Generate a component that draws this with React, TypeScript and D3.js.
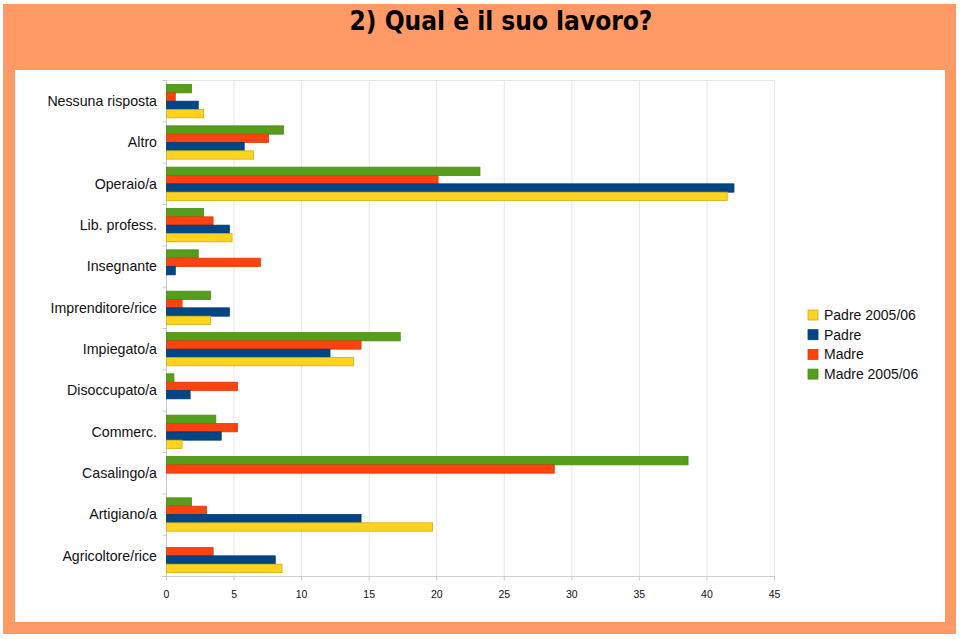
import React from "react";
import * as d3 from "d3";

const categories = [
  "Nessuna risposta",
  "Altro",
  "Operaio/a",
  "Lib. profess.",
  "Insegnante",
  "Imprenditore/rice",
  "Impiegato/a",
  "Disoccupato/a",
  "Commerc.",
  "Casalingo/a",
  "Artigiano/a",
  "Agricoltore/rice",
];

// series ordered top-to-bottom inside each group
const madre0506 = [1.85, 8.65, 23.2, 2.75, 2.35, 3.25, 17.3, 0.55, 3.65, 38.6, 1.85, 0];
const madre = [0.65, 7.55, 20.1, 3.45, 6.95, 1.15, 14.4, 5.25, 5.25, 28.7, 2.95, 3.45];
const padre = [2.35, 5.75, 42.0, 4.65, 0.65, 4.65, 12.1, 1.75, 4.05, 0, 14.4, 8.05];
const padre0506 = [2.75, 6.45, 41.5, 4.85, 0, 3.25, 13.85, 0, 1.15, 0, 19.7, 8.55];

const seriesNames = ["Madre 2005/06", "Madre", "Padre", "Padre 2005/06"];
const seriesValues = [madre0506, madre, padre, padre0506];
const seriesColors = ["#579d1c", "#ff420e", "#004586", "#ffd320"];
const seriesStroke = ["#4a8a15", "#e03a0a", "#003a70", "#d4ad10"];

const legendOrder = [3, 2, 1, 0];
const xTicks = [0, 5, 10, 15, 20, 25, 30, 35, 40, 45];

const font = "'Liberation Sans', Arial, sans-serif";

export default function App() {
  const left = 166.5;
  const right = 774.5;
  const top = 80.5;
  const bottom = 576.5;

  const x = d3.scaleLinear().domain([0, 45]).range([left, right]);
  const y = d3.scaleBand<string>().domain(categories).range([top, bottom]).paddingInner(0).paddingOuter(0);
  const bw = y.bandwidth();
  const groupH = bw * 0.806;
  const barH = groupH / 4;

  return (
    <svg width={960} height={639} style={{ position: "absolute", left: 0, top: 0 }}>
      <rect x={0} y={0} width={960} height={639} fill="#ffffff" />
      <rect x={3} y={4} width={953} height={630} fill="#ff9966" />
      <rect x={15} y={70} width={930} height={552} fill="#ffffff" />
      <text
        x={501}
        y={30}
        textAnchor="middle"
        fontFamily="'DejaVu Sans Condensed', 'DejaVu Sans', sans-serif"
        fontStretch="condensed"
        fontWeight="bold"
        fontSize={26}
        fill="#000"
      >
        2) Qual è il suo lavoro?
      </text>

      {/* grid */}
      {xTicks.map((t) => (
        <line key={"g" + t} x1={x(t)} x2={x(t)} y1={top} y2={bottom} stroke="#e6e6e6" strokeWidth={1} />
      ))}
      <line x1={left} x2={right} y1={top} y2={top} stroke="#e6e6e6" />
      <line x1={left} x2={right} y1={bottom} y2={bottom} stroke="#d0d0d0" />
      <line x1={left} x2={left} y1={top} y2={bottom} stroke="#c8c8c8" />

      {/* category ticks */}
      {categories.map((c, i) => (
        <line key={"ct" + c} x1={left - 4} x2={left} y1={top + i * bw} y2={top + i * bw} stroke="#c8c8c8" />
      ))}
      <line x1={left - 4} x2={left} y1={bottom} y2={bottom} stroke="#c8c8c8" />
      {xTicks.map((t) => (
        <line key={"xt" + t} x1={x(t)} x2={x(t)} y1={bottom} y2={bottom + 4} stroke="#c8c8c8" />
      ))}

      {/* bars */}
      {categories.map((c, ci) => {
        const y0 = (y(c) as number) + (bw - groupH) / 2;
        return seriesValues.map((vals, si) =>
          vals[ci] > 0 ? (
            <rect
              key={c + si}
              x={x(0)}
              y={y0 + si * barH}
              width={x(vals[ci]) - x(0)}
              height={barH}
              fill={seriesColors[si]}
              stroke={seriesStroke[si]}
              strokeWidth={0.8}
            />
          ) : null
        );
      })}

      {/* category labels */}
      {categories.map((c) => (
        <text
          key={"l" + c}
          x={157}
          y={(y(c) as number) + bw / 2}
          dy="0.35em"
          textAnchor="end"
          fontFamily={font}
          fontSize={14.2}
          fill="#111"
        >
          {c}
        </text>
      ))}

      {/* x tick labels */}
      {xTicks.map((t) => (
        <text
          key={"xl" + t}
          x={x(t)}
          y={594}
          dy="0.35em"
          textAnchor="middle"
          fontFamily={font}
          fontSize={10.5}
          fill="#111"
        >
          {t}
        </text>
      ))}

      {/* legend */}
      {legendOrder.map((si, i) => (
        <g key={"lg" + si} transform={`translate(808, ${315 + i * 19.7})`}>
          <rect x={0} y={-5} width={10} height={10} fill={seriesColors[si]} stroke={seriesStroke[si]} strokeWidth={0.8} />
          <text x={16} y={0} dy="0.35em" fontFamily={font} fontSize={14} fill="#111">
            {seriesNames[si]}
          </text>
        </g>
      ))}
    </svg>
  );
}
